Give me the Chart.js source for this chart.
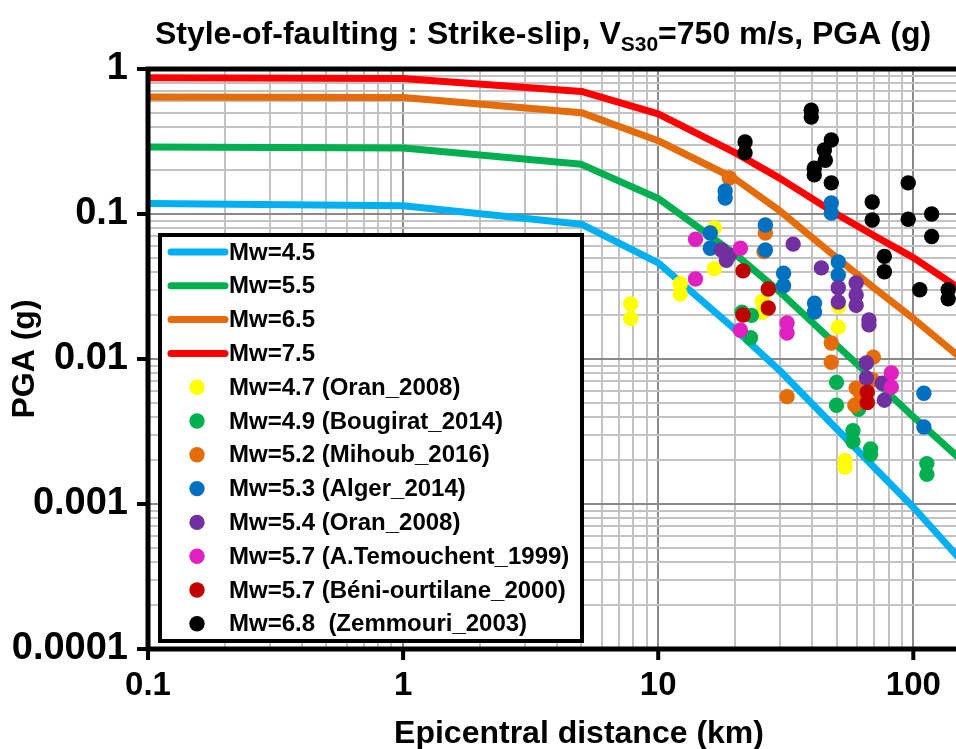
<!DOCTYPE html>
<html>
<head>
<meta charset="utf-8">
<script src="https://cdn.jsdelivr.net/npm/chart.js@4.4.1/dist/chart.umd.min.js"></script>
<style>
  html, body { margin: 0; padding: 0; background: #fff; }
</style>
</head>
<body>
<canvas id="chart" width="956" height="749"></canvas>
<script>
// model curves (distance in km, PGA in g)
const curveDist = [0.1, 1, 5, 10, 20, 30, 50, 70, 100, 150];
const pgaMw45 = [0.118, 0.114, 0.085, 0.046, 0.016, 0.0083, 0.0033, 0.0018, 0.00095, 0.00043];
const pgaMw55 = [0.29, 0.285, 0.22, 0.128, 0.053, 0.029, 0.0125, 0.0072, 0.004, 0.0021];
const pgaMw65 = [0.64, 0.635, 0.5, 0.32, 0.175, 0.105, 0.05, 0.031, 0.019, 0.0105];
const pgaMw75 = [0.87, 0.86, 0.7, 0.49, 0.265, 0.176, 0.1, 0.071, 0.05, 0.031];

// recorded events
const oran47Dist = [7.8, 7.8, 12.2, 12.2, 16.6, 16.6, 25.6, 25.6, 50.8, 51, 54, 54];
const oran47Pga = [0.024, 0.019, 0.033, 0.028, 0.080, 0.042, 0.025, 0.021, 0.0166, 0.023, 0.0020, 0.0018];
const bougiratDist = [21.3, 23.2, 23, 50, 50, 58, 58, 61, 68, 68, 113, 113];
const bougiratPga = [0.021, 0.020, 0.014, 0.0069, 0.0048, 0.0032, 0.0027, 0.0045, 0.0024, 0.0022, 0.0019, 0.0016];
const mihoubDist = [19, 26.3, 26, 32, 47.7, 47.7, 69.7, 59.7, 59, 69, 62];
const mihoubPga = [0.177, 0.074, 0.055, 0.0055, 0.0129, 0.0095, 0.0103, 0.0063, 0.0048, 0.0072, 0.0058];
const algerDist = [18.3, 18.3, 16, 16, 26.3, 26.3, 31, 31, 41, 41, 50.8, 50.8, 47.7, 47.7, 110, 110];
const algerPga = [0.144, 0.129, 0.074, 0.058, 0.084, 0.0565, 0.039, 0.032, 0.0243, 0.0211, 0.0467, 0.038, 0.119, 0.1016, 0.0058, 0.0034];
const oran54Dist = [17.7, 19, 18.5, 33.8, 43.6, 50.8, 50.8, 59.7, 59.7, 59.7, 67, 67, 65.5, 65.5, 75.5, 77];
const oran54Pga = [0.0565, 0.052, 0.048, 0.062, 0.0425, 0.031, 0.0247, 0.0334, 0.0276, 0.0235, 0.0186, 0.0172, 0.0094, 0.0074, 0.0068, 0.0052];
const temouchentDist = [14, 14, 21, 21, 32, 32, 82, 82];
const temouchentPga = [0.067, 0.0356, 0.058, 0.0158, 0.0177, 0.0151, 0.008, 0.0064];
const beniDist = [21.5, 21.5, 27, 27, 66, 66];
const beniPga = [0.0405, 0.0201, 0.0304, 0.0225, 0.0059, 0.0050];
const zemmouriDist = [21.9, 21.9, 39.8, 39.8, 47.7, 44.8, 45.2, 40.9, 40.9, 47.7, 69, 69, 95.5, 95.5, 118, 118, 77, 77, 106, 137, 137];
const zemmouriPga = [0.314, 0.264, 0.52, 0.466, 0.324, 0.276, 0.235, 0.207, 0.186, 0.164, 0.121, 0.091, 0.164, 0.092, 0.1, 0.07, 0.051, 0.04, 0.03, 0.03, 0.026];

// axes
const xMajor = [0.1, 1, 10, 100];
const xTickLabels = ["0.1", "1", "10", "100"];
const yMajor = [0.0001, 0.001, 0.01, 0.1, 1];
const yTickLabels = ["0.0001", "0.001", "0.01", "0.1", "1"];
const xMin = 0.1, xMax = 147;
const yMin = 0.0001, yMax = 1;

const FONT = '"Liberation Sans", Arial, sans-serif';

const pts = (xs, ys) => xs.map((x, i) => ({x: x, y: ys[i]}));

// 1..9 in every decade, no 15/150 steps
const gridValues = (majors, max) => {
  const out = [];
  majors.forEach(d => {
    for (let m = 1; m <= 9; m++) {
      const v = m === 1 ? d : m * d;
      if (v <= max * 1.0001) out.push(v);
    }
  });
  return out;
};

const isMajor = v => Math.abs(Math.log10(v) - Math.round(Math.log10(v))) < 1e-6;

const curve = (label, data, color) => ({
  label: label,
  data: pts(curveDist, data),
  showLine: true,
  borderColor: color,
  backgroundColor: color,
  borderWidth: 7,
  pointRadius: 0,
  tension: 0,
  borderJoinStyle: "round",
  borderCapStyle: "round",
  order: 100,
});

const dots = (label, xs, ys, color, order) => ({
  label: label,
  data: pts(xs, ys),
  showLine: false,
  backgroundColor: color,
  borderColor: color,
  borderWidth: 0,
  pointRadius: 7.7,
  order: order,
});

const textPlugin = {
  id: "texts",
  afterDraw(chart) {
    const ctx = chart.ctx;
    const big = "bold 32px " + FONT;
    const small = "bold 21px " + FONT;
    const a = "Style-of-faulting : Strike-slip, V";
    const b = "S30";
    const c = "=750 m/s, PGA (g)";
    ctx.save();
    ctx.fillStyle = "#000";
    ctx.textBaseline = "alphabetic";
    ctx.font = big;
    const wa = ctx.measureText(a).width, wc = ctx.measureText(c).width;
    ctx.font = small;
    const wb = ctx.measureText(b).width;
    let x = 543 - (wa + wb + wc) / 2;
    const y = 44;
    ctx.font = big;
    ctx.fillText(a, x, y);
    x += wa;
    ctx.font = small;
    ctx.fillText(b, x, y + 7);
    x += wb;
    ctx.font = big;
    ctx.fillText(c, x, y);
    // x axis title (centred on the full plot, which runs past the right edge)
    ctx.font = "bold 32px " + FONT;
    ctx.textAlign = "center";
    ctx.textBaseline = "middle";
    ctx.fillText("Epicentral distance (km)", 579, 734);
    ctx.restore();
  },
};

const framePlugin = {
  id: "frame",
  afterDatasetsDraw(chart) {
    const {ctx, chartArea: a, scales} = chart;
    ctx.save();
    ctx.strokeStyle = "#000";
    ctx.lineWidth = 5;
    ctx.beginPath();
    ctx.moveTo(a.right + 5, a.top);
    ctx.lineTo(a.left, a.top);
    ctx.lineTo(a.left, a.bottom);
    ctx.lineTo(a.right + 5, a.bottom);
    ctx.stroke();
    ctx.lineWidth = 4;
    ctx.beginPath();
    xMajor.forEach(v => {
      const px = scales.x.getPixelForValue(v);
      ctx.moveTo(px, a.bottom);
      ctx.lineTo(px, a.bottom + 11);
    });
    yMajor.forEach(v => {
      const py = scales.y.getPixelForValue(v);
      ctx.moveTo(a.left, py);
      ctx.lineTo(a.left - 11, py);
    });
    ctx.stroke();
    ctx.restore();
  },
};

const legendPlugin = {
  id: "boxLegend",
  afterDraw(chart) {
    const ctx = chart.ctx;
    ctx.save();
    ctx.fillStyle = "#fff";
    ctx.fillRect(160, 235, 422, 406);
    ctx.lineWidth = 4;
    ctx.strokeStyle = "#000";
    ctx.strokeRect(160, 235, 422, 406);
    ctx.font = "bold 24px " + FONT;
    ctx.textBaseline = "middle";
    chart.data.datasets.forEach((ds, i) => {
      const y = 252 + i * 33.8;
      if (ds.showLine) {
        ctx.strokeStyle = ds.borderColor;
        ctx.lineWidth = 7;
        ctx.lineCap = "round";
        ctx.beginPath();
        ctx.moveTo(171, y);
        ctx.lineTo(225, y);
        ctx.stroke();
      } else {
        ctx.fillStyle = ds.backgroundColor;
        ctx.beginPath();
        ctx.arc(197, y, 7.7, 0, Math.PI * 2);
        ctx.fill();
      }
      ctx.fillStyle = "#000";
      ctx.fillText(ds.label, 229, y + 1);
    });
    ctx.restore();
  },
};

const gridColor = c => (c.tick && isMajor(c.tick.value) ? "#8a8a8a" : "#c2c2c2");

new Chart(document.getElementById("chart").getContext("2d"), {
  type: "scatter",
  data: {
    datasets: [
      curve("Mw=4.5", pgaMw45, "#00B0F0"),
      curve("Mw=5.5", pgaMw55, "#00B050"),
      curve("Mw=6.5", pgaMw65, "#E46C0A"),
      curve("Mw=7.5", pgaMw75, "#FF0000"),
      dots("Mw=4.7 (Oran_2008)", oran47Dist, oran47Pga, "#FFFF00", 8),
      dots("Mw=4.9 (Bougirat_2014)", bougiratDist, bougiratPga, "#00B050", 7),
      dots("Mw=5.2 (Mihoub_2016)", mihoubDist, mihoubPga, "#E46C0A", 6),
      dots("Mw=5.3 (Alger_2014)", algerDist, algerPga, "#0070C0", 5),
      dots("Mw=5.4 (Oran_2008)", oran54Dist, oran54Pga, "#7030A0", 4),
      dots("Mw=5.7 (A.Temouchent_1999)", temouchentDist, temouchentPga, "#E020C0", 3),
      dots("Mw=5.7 (Béni-ourtilane_2000)", beniDist, beniPga, "#C00000", 2),
      dots("Mw=6.8  (Zemmouri_2003)", zemmouriDist, zemmouriPga, "#000000", 1),
    ],
  },
  options: {
    responsive: false,
    animation: false,
    layout: {autoPadding: false, padding: {top: 69, right: 0, bottom: 0, left: 0}},
    plugins: {
      legend: {display: false},
      tooltip: {enabled: false},
      title: {display: false},
    },
    scales: {
      x: {
        type: "logarithmic",
        min: xMin,
        max: xMax,
        bounds: "data",
        afterBuildTicks: s => { s.ticks = gridValues(xMajor, xMax).map(v => ({value: v})); },
        afterFit: s => { s.height = 100; s.paddingLeft = 0; s.paddingRight = 0; },
        border: {display: false},
        grid: {color: gridColor, lineWidth: 2, drawTicks: false},
        ticks: {
          autoSkip: false,
          maxRotation: 0,
          padding: 17,
          color: "#000",
          font: {family: FONT, size: 33, weight: "bold"},
          callback: v => {
            const i = xMajor.findIndex(m => Math.abs(m - v) < m * 1e-6);
            return i >= 0 ? xTickLabels[i] : "";
          },
        },
        title: {display: false},
      },
      y: {
        type: "logarithmic",
        min: yMin,
        max: yMax,
        bounds: "data",
        afterBuildTicks: s => { s.ticks = gridValues(yMajor, yMax).map(v => ({value: v})); },
        afterFit: s => { s.width = 148; s.paddingTop = 0; s.paddingBottom = 0; },
        border: {display: false},
        grid: {color: gridColor, lineWidth: 2, drawTicks: false},
        ticks: {
          autoSkip: false,
          padding: 20,
          color: "#000",
          font: {family: FONT, size: 38, weight: "bold"},
          callback: v => {
            const i = yMajor.findIndex(m => Math.abs(m - v) < m * 1e-6);
            return i >= 0 ? yTickLabels[i] : "";
          },
        },
        title: {
          display: true,
          text: "PGA (g)",
          color: "#000",
          padding: {top: 9, bottom: 0},
          font: {family: FONT, size: 32, weight: "bold", lineHeight: 1},
        },
      },
    },
  },
  plugins: [framePlugin, legendPlugin, textPlugin],
});
</script>
</body>
</html>
